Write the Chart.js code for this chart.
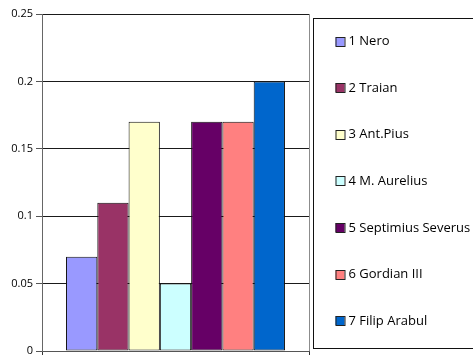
<!DOCTYPE html>
<html>
<head>
<meta charset="utf-8">
<script src="https://cdn.jsdelivr.net/npm/chart.js@4/dist/chart.umd.min.js"></script>
<style>
  html, body { margin: 0; padding: 0; background: #fff; }
  #wrap { position: relative; width: 473px; height: 355px; }
</style>
</head>
<body>
<div id="wrap"><canvas id="c"></canvas></div>
<script>
// Emperors and their values (single category group)
const categories = [''];
const seriesNames = ['1 Nero', '2 Traian', '3 Ant.Pius', '4 M. Aurelius', '5 Septimius Severus', '6 Gordian III', '7 Filip Arabul'];
const seriesValues = [0.07, 0.11, 0.17, 0.05, 0.17, 0.17, 0.20];
const seriesColors = ['#9999FF', '#993366', '#FFFFCC', '#CCFFFF', '#660066', '#FF8080', '#0066CC'];
const yTickLabels = ['0', '0.05', '0.1', '0.15', '0.2', '0.25'];

const datasets = seriesNames.map((name, i) => ({
  label: name,
  data: [seriesValues[i]],
  backgroundColor: seriesColors[i],
  borderColor: '#111',
  borderWidth: 1,
  borderSkipped: false,
  barPercentage: 1,
  categoryPercentage: 0.82
}));

// Boxed legend drawn to the right of the plot area
const boxLegend = {
  id: 'boxLegend',
  afterDraw(chart) {
    const ctx = chart.ctx;
    const area = chart.chartArea;
    const left = Math.round(area.right) + 4.5;
    const top = 18.5;
    const bottom = 348.5;
    ctx.save();
    ctx.strokeStyle = '#111';
    ctx.lineWidth = 1;
    ctx.strokeRect(left, top, 300, bottom - top);
    ctx.font = '13px "Open Sans", sans-serif';
    ctx.textBaseline = 'middle';
    const firstY = 41;
    const step = 46.6;
    chart.data.datasets.forEach((ds, i) => {
      const cy = firstY + i * step;
      const bx = left + 22;
      const by = Math.round(cy - 4.5);
      ctx.fillStyle = ds.backgroundColor;
      ctx.fillRect(bx, by, 9, 9);
      ctx.strokeStyle = '#222';
      ctx.strokeRect(bx + 0.5, by + 0.5, 9, 9);
      ctx.fillStyle = '#000';
      ctx.fillText(ds.label, bx + 13, cy + 0.5);
    });
    ctx.restore();
  }
};

new Chart(document.getElementById('c'), {
  type: 'bar',
  data: { labels: categories, datasets },
  options: {
    responsive: true,
    maintainAspectRatio: false,
    animation: false,
    devicePixelRatio: 1,
    layout: { padding: { left: 11, right: 164, top: 14, bottom: 0 } },
    plugins: {
      legend: { display: false },
      tooltip: { enabled: false }
    },
    scales: {
      x: {
        offset: true,
        afterFit: (scale) => { scale.height = 4; scale.paddingLeft = 0; scale.paddingRight = 0; },
        grid: {
          display: true,
          offset: true,
          drawOnChartArea: true,
          color: '#8c8c8c',
          lineWidth: 1,
          drawTicks: true,
          tickLength: 4,
          tickColor: '#333'
        },
        border: { display: true, color: '#555', width: 1 },
        ticks: { display: false }
      },
      y: {
        min: 0,
        max: 0.25,
        afterFit: (scale) => { scale.width = 31; scale.paddingTop = 0; scale.paddingBottom = 0; },
        grid: {
          color: '#1a1a1a',
          lineWidth: 1,
          drawTicks: true,
          tickLength: 6,
          tickColor: '#555'
        },
        border: { display: true, color: '#666', width: 1 },
        ticks: {
          stepSize: 0.05,
          padding: 3,
          color: '#000',
          font: { family: '"Open Sans", sans-serif', size: 11 },
          callback: (v, i) => yTickLabels[i]
        }
      }
    }
  },
  plugins: [boxLegend]
});
</script>
</body>
</html>
